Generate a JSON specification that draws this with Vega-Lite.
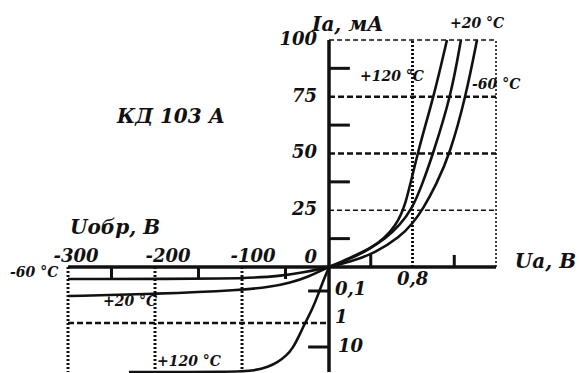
{
  "$schema": "https://vega.github.io/schema/vega-lite/v6.json",
  "width": 579,
  "height": 373,
  "padding": 0,
  "autosize": {"type": "none"},
  "background": "white",
  "config": {"view": {"stroke": null}},
  "datasets": {
    "curves": [
      {"s": "+120r", "v": -230, "i": -100},
      {"s": "+120r", "v": -108, "i": -100},
      {"s": "+120r", "v": -85, "i": -94.6},
      {"s": "+120r", "v": -70.1, "i": -82},
      {"s": "+120r", "v": -58.6, "i": -64},
      {"s": "+120r", "v": -49.4, "i": -42.4},
      {"s": "+120r", "v": -41.4, "i": -13.6},
      {"s": "+120r", "v": -34.5, "i": -5.9},
      {"s": "+120r", "v": -27.6, "i": -1},
      {"s": "+120r", "v": -19.5, "i": -0.63},
      {"s": "+120r", "v": -12.6, "i": -0.21},
      {"s": "+120r", "v": -6.9, "i": -0.06},
      {"s": "+120r", "v": 0, "i": 0},
      {"s": "+120f", "v": 0, "i": 0},
      {"s": "+120f", "v": 0.201, "i": 3.52},
      {"s": "+120f", "v": 0.393, "i": 7.93},
      {"s": "+120f", "v": 0.536, "i": 12.78},
      {"s": "+120f", "v": 0.632, "i": 18.06},
      {"s": "+120f", "v": 0.728, "i": 25.55},
      {"s": "+120f", "v": 0.843, "i": 49.78},
      {"s": "+120f", "v": 1.006, "i": 75.33},
      {"s": "+120f", "v": 1.13, "i": 100},
      {"s": "+20r", "v": -300, "i": -0.241},
      {"s": "+20r", "v": -199, "i": -0.184},
      {"s": "+20r", "v": -100, "i": -0.096},
      {"s": "+20r", "v": -67.8, "i": -0.083},
      {"s": "+20r", "v": -44.8, "i": -0.067},
      {"s": "+20r", "v": -21.8, "i": -0.0375},
      {"s": "+20r", "v": -8, "i": -0.0125},
      {"s": "+20r", "v": 0, "i": 0},
      {"s": "+20f", "v": 0, "i": 0},
      {"s": "+20f", "v": 0.201, "i": 3.96},
      {"s": "+20f", "v": 0.393, "i": 8.15},
      {"s": "+20f", "v": 0.536, "i": 12.33},
      {"s": "+20f", "v": 0.68, "i": 18.5},
      {"s": "+20f", "v": 0.795, "i": 25.55},
      {"s": "+20f", "v": 0.891, "i": 36.1},
      {"s": "+20f", "v": 0.996, "i": 49.78},
      {"s": "+20f", "v": 1.169, "i": 75.33},
      {"s": "+20f", "v": 1.264, "i": 100},
      {"s": "-60r", "v": -300, "i": -0.05},
      {"s": "-60r", "v": -100, "i": -0.05},
      {"s": "-60r", "v": -56, "i": -0.0375},
      {"s": "-60r", "v": -27.6, "i": -0.021},
      {"s": "-60r", "v": -10.3, "i": -0.008},
      {"s": "-60r", "v": 0, "i": 0},
      {"s": "-60f", "v": 0, "i": 0},
      {"s": "-60f", "v": 0.201, "i": 2.2},
      {"s": "-60f", "v": 0.441, "i": 6.17},
      {"s": "-60f", "v": 0.68, "i": 13.2},
      {"s": "-60f", "v": 0.805, "i": 19.4},
      {"s": "-60f", "v": 0.9, "i": 25.55},
      {"s": "-60f", "v": 1.025, "i": 36.1},
      {"s": "-60f", "v": 1.159, "i": 49.78},
      {"s": "-60f", "v": 1.312, "i": 75.33},
      {"s": "-60f", "v": 1.418, "i": 100}
    ],
    "axes": [
      {"v": -300, "i": 0, "v2": 1.6, "i2": 0},
      {"v": 0, "i": -100, "v2": 0, "i2": 100}
    ],
    "ticks": [
      {"v": 0, "i": 12.5, "v2": 0.2, "i2": 12.5},
      {"v": 0, "i": 37.5, "v2": 0.2, "i2": 37.5},
      {"v": 0, "i": 62.5, "v2": 0.2, "i2": 62.5},
      {"v": 0, "i": 87.5, "v2": 0.2, "i2": 87.5},
      {"v": 0.4, "i": 0, "v2": 0.4, "i2": 5.3},
      {"v": 1.2, "i": 0, "v2": 1.2, "i2": 5.3},
      {"v": -250, "i": 0, "v2": -250, "i2": -0.05},
      {"v": -150, "i": 0, "v2": -150, "i2": -0.05},
      {"v": -50, "i": 0, "v2": -50, "i2": -0.05},
      {"v": -24, "i": -0.1, "v2": 0, "i2": -0.1},
      {"v": -24, "i": -10, "v2": 0, "i2": -10}
    ],
    "dashThick": [
      {"v": 0, "i": 75, "v2": 1.6, "i2": 75},
      {"v": 0, "i": 50, "v2": 1.6, "i2": 50},
      {"v": -300, "i": -1, "v2": 0, "i2": -1}
    ],
    "dashThin": [
      {"v": 0, "i": 100, "v2": 1.6, "i2": 100},
      {"v": 0, "i": 25, "v2": 1.6, "i2": 25}
    ],
    "dotThick": [
      {"v": 0.8, "i": 0, "v2": 0.8, "i2": 100},
      {"v": -300, "i": 0, "v2": -300, "i2": -100},
      {"v": -200, "i": 0, "v2": -200, "i2": -100},
      {"v": -100, "i": 0, "v2": -100, "i2": -100}
    ],
    "dotThin": [
      {"v": 1.6, "i": 0, "v2": 1.6, "i2": 100}
    ],
    "labelsRight": [
      {"t": "100", "v": -13.8, "i": 100},
      {"t": "75", "v": -13.8, "i": 75},
      {"t": "50", "v": -13.8, "i": 50},
      {"t": "25", "v": -13.8, "i": 25},
      {"t": "0", "v": -13.8, "i": 4}
    ],
    "labelsCenter": [
      {"t": "-300", "v": -290.8, "i": 4.6},
      {"t": "-200", "v": -185, "i": 4.6},
      {"t": "-100", "v": -87.4, "i": 4.6}
    ],
    "labelsLeft": [
      {"t": "0,1", "v": 0.057, "i": -0.096},
      {"t": "0,8", "v": 0.651, "i": -0.054},
      {"t": "1", "v": 0.057, "i": -0.86},
      {"t": "10", "v": 0.086, "i": -10}
    ],
    "labelsWords": [
      {"t": "Uобр, В", "v": -297.7, "i": 17.2},
      {"t": "Ia, мА", "v": -19.5, "i": 106.6},
      {"t": "КД 103 А", "v": -243.7, "i": 66.1},
      {"t": "Ua, В", "v": 1.78, "i": 2.2}
    ],
    "labelsSmall": [
      {"t": "+20 °C", "v": 1.159, "i": 107},
      {"t": "+120 °C", "v": 0.297, "i": 83.7},
      {"t": "-60 °C", "v": 1.37, "i": 80.2},
      {"t": "-60 °C", "v": -366.7, "i": -0.024},
      {"t": "+20 °C", "v": -259.8, "i": -0.4},
      {"t": "+120 °C", "v": -197.7, "i": -64}
    ]
  },
  "encoding": {
    "x": {"field": "v", "type": "quantitative", "axis": null,
          "scale": {"domain": [-378.2, 0, 2.395], "range": [0, 329, 579], "nice": false, "zero": false}},
    "y": {"field": "i", "type": "quantitative", "axis": null,
          "scale": {"domain": [-100, -10, -1, -0.1, 0, 117.6], "range": [372, 347, 323, 291, 267, 0], "nice": false, "zero": false}}
  },
  "layer": [
    {"data": {"name": "dashThick"}, "mark": {"type": "rule", "color": "#111", "strokeWidth": 2.4, "strokeDash": [6, 3]},
     "encoding": {"x2": {"field": "v2"}, "y2": {"field": "i2"}}},
    {"data": {"name": "dashThin"}, "mark": {"type": "rule", "color": "#111", "strokeWidth": 1.6, "strokeDash": [5, 3]},
     "encoding": {"x2": {"field": "v2"}, "y2": {"field": "i2"}}},
    {"data": {"name": "dotThick"}, "mark": {"type": "rule", "color": "#111", "strokeWidth": 3, "strokeDash": [2, 2]},
     "encoding": {"x2": {"field": "v2"}, "y2": {"field": "i2"}}},
    {"data": {"name": "dotThin"}, "mark": {"type": "rule", "color": "#111", "strokeWidth": 1.6, "strokeDash": [2, 2]},
     "encoding": {"x2": {"field": "v2"}, "y2": {"field": "i2"}}},
    {"data": {"name": "axes"}, "mark": {"type": "rule", "color": "#111", "strokeWidth": 3.5},
     "encoding": {"x2": {"field": "v2"}, "y2": {"field": "i2"}}},
    {"data": {"name": "ticks"}, "mark": {"type": "rule", "color": "#111", "strokeWidth": 3},
     "encoding": {"x2": {"field": "v2"}, "y2": {"field": "i2"}}},
    {"data": {"name": "curves"}, "mark": {"type": "line", "color": "#111", "strokeWidth": 2.6, "interpolate": "basis"},
     "encoding": {"detail": {"field": "s"}}},
    {"data": {"name": "labelsRight"}, "mark": {"type": "text", "align": "right", "baseline": "middle", "font": "DejaVu Serif", "fontStyle": "italic", "fontWeight": "bold", "fontSize": 18, "color": "#111"},
     "encoding": {"text": {"field": "t"}}},
    {"data": {"name": "labelsCenter"}, "mark": {"type": "text", "align": "center", "baseline": "middle", "font": "DejaVu Serif", "fontStyle": "italic", "fontWeight": "bold", "fontSize": 18, "color": "#111"},
     "encoding": {"text": {"field": "t"}}},
    {"data": {"name": "labelsLeft"}, "mark": {"type": "text", "align": "left", "baseline": "middle", "font": "DejaVu Serif", "fontStyle": "italic", "fontWeight": "bold", "fontSize": 18, "color": "#111"},
     "encoding": {"text": {"field": "t"}}},
    {"data": {"name": "labelsWords"}, "mark": {"type": "text", "align": "left", "baseline": "middle", "font": "DejaVu Serif", "fontStyle": "italic", "fontWeight": "bold", "fontSize": 20, "color": "#111"},
     "encoding": {"text": {"field": "t"}}},
    {"data": {"name": "labelsSmall"}, "mark": {"type": "text", "align": "left", "baseline": "middle", "font": "DejaVu Serif", "fontStyle": "italic", "fontWeight": "bold", "fontSize": 14, "color": "#111"},
     "encoding": {"text": {"field": "t"}}}
  ]
}
